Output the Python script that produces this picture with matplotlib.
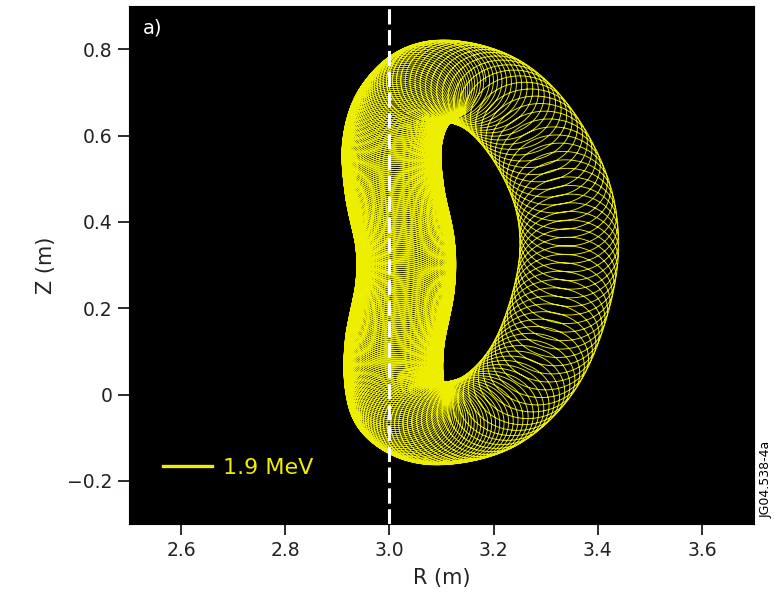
import numpy as np
import matplotlib
matplotlib.use('Agg')
import matplotlib.pyplot as plt
from matplotlib.lines import Line2D

plt.rcParams['font.family'] = ['DejaVu Sans']
plt.rcParams['lines.scale_dashes'] = False

# guiding-centre path of the orbit (R, Z in m), clockwise from the top
gc_R = [3.09, 3.19, 3.27, 3.33, 3.345, 3.32, 3.27, 3.19, 3.09,
        3.03, 3.01, 3.01, 3.03, 3.03, 3.01, 3.005, 3.03]
gc_Z = [0.725, 0.70, 0.61, 0.47, 0.33, 0.18, 0.05, -0.04, -0.068,
        -0.04, 0.02, 0.12, 0.25, 0.35, 0.47, 0.58, 0.67]
# path length travelled per gyration (m) at each guiding-centre point
gyro_pitch = [0.007, 0.013, 0.019, 0.020, 0.020, 0.020, 0.018, 0.012, 0.007,
              0.005, 0.0045, 0.0045, 0.0045, 0.0045, 0.0045, 0.0045, 0.005]
larmor_radius = 0.095
n_transits = 1
energy_label = '1.9 MeV'

x_ticks = [2.6, 2.8, 3.0, 3.2, 3.4, 3.6]
x_tick_labels = ['2.6', '2.8', '3.0', '3.2', '3.4', '3.6']
y_ticks = [-0.2, 0.0, 0.2, 0.4, 0.6, 0.8]
y_tick_labels = ['\u22120.2', '0', '0.2', '0.4', '0.6', '0.8']
marker_R = 3.0

YELLOW = '#eeee00'


def closed_spline(points, n_per_seg=1500):
    # periodic Catmull-Rom through the given points
    P = np.asarray(points, dtype=float)
    n = len(P)
    t = np.linspace(0, 1, n_per_seg, endpoint=False)[:, None]
    segs = []
    for i in range(n):
        p0, p1, p2, p3 = P[i - 1], P[i], P[(i + 1) % n], P[(i + 2) % n]
        segs.append(0.5 * (2 * p1 + (-p0 + p2) * t
                           + (2 * p0 - 5 * p1 + 4 * p2 - p3) * t ** 2
                           + (-p0 + 3 * p1 - 3 * p2 + p3) * t ** 3))
    return np.vstack(segs)


path = closed_spline(np.column_stack([gc_R, gc_Z, gyro_pitch]))
gc = np.tile(path[:, :2], (n_transits, 1))
pitch = np.tile(path[:, 2], n_transits)
ds = np.linalg.norm(np.diff(gc, axis=0, prepend=gc[:1]), axis=1)
phase = np.cumsum(2 * np.pi * ds / pitch)
orbit_R = gc[:, 0] + larmor_radius * np.cos(phase)
orbit_Z = gc[:, 1] + larmor_radius * np.sin(phase)

fig = plt.figure(figsize=(7.75, 5.95), dpi=100)
ax = fig.add_axes([129 / 775, 71 / 595, 625 / 775, 518 / 595])
ax.set_facecolor('black')

ax.plot(orbit_R, orbit_Z, color=YELLOW, lw=0.65, zorder=2)
ax.axvline(marker_R, color='white', lw=2.2, dashes=(11, 4), zorder=3)

ax.set_xlim(2.5, 3.7)
ax.set_ylim(-0.3, 0.9)
ax.set_xticks(x_ticks)
ax.set_xticklabels(x_tick_labels)
ax.set_yticks(y_ticks)
ax.set_yticklabels(y_tick_labels)
ax.tick_params(direction='out', length=8, width=1.3, color='#102020',
               labelsize=13.5, labelcolor='#222222', pad=4)
ax.set_xlabel('R (m)', fontsize=15, labelpad=6, color='#222222')
ax.set_ylabel('Z (m)', fontsize=15, labelpad=8, color='#222222')

ax.text(0.022, 0.975, 'a)', transform=ax.transAxes, color='white',
        fontsize=14, va='top', ha='left')

handle = Line2D([], [], color=YELLOW, lw=2.4)
ax.legend([handle], [energy_label], loc='center left',
          bbox_to_anchor=(0.054, 0.108), frameon=False, fontsize=16,
          labelcolor=YELLOW, handlelength=2.2, handletextpad=0.5,
          borderpad=0, borderaxespad=0)

fig.text(0.988, 0.195, 'JG04.538-4a', rotation=90, fontsize=9,
         ha='center', va='center')

fig.savefig('out.png', dpi=100)
